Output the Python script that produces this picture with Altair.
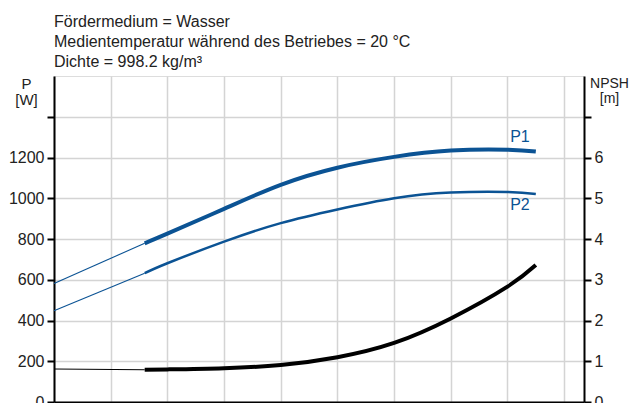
import altair as alt
import pandas as pd

# Flow values (x, unlabeled in the picture)
q_main = [1.6, 2, 3, 4, 5, 6, 7, 8, 8.5]
p1_main = [779, 826, 948, 1066, 1150, 1203, 1234, 1238, 1229]
p2_main = [632, 681, 787, 878, 945, 1000, 1028, 1031, 1021]
npsh_main = [0.79, 0.80, 0.83, 0.91, 1.10, 1.45, 2.05, 2.83, 3.36]

q_ext = [0, 1.6]
p1_ext = [582, 779]
p2_ext = [448, 632]
npsh_ext = [0.81, 0.79]

label_q = [8.22, 8.22]
label_p = [1302, 968]
label_text = ["P1", "P2"]

title_lines = [
    "Fördermedium = Wasser",
    "Medientemperatur während des Betriebes = 20 °C",
    "Dichte = 998.2 kg/m³",
]

x_ticks = list(range(10))
p_ticks = [0, 200, 400, 600, 800, 1000, 1200, 1400]
n_ticks = [0, 1, 2, 3, 4, 5, 6, 7]

BLUE = "#0b5394"
FONT = "Liberation Sans"

df_p1 = pd.DataFrame({"Q": q_main, "P": p1_main})
df_p1e = pd.DataFrame({"Q": q_ext, "P": p1_ext})
df_p2 = pd.DataFrame({"Q": q_main, "P": p2_main})
df_p2e = pd.DataFrame({"Q": q_ext, "P": p2_ext})
df_n = pd.DataFrame({"Q": q_main, "NPSH": npsh_main})
df_ne = pd.DataFrame({"Q": q_ext, "NPSH": npsh_ext})
df_lab = pd.DataFrame({"Q": label_q, "P": label_p, "t": label_text})

x_enc = alt.X(
    "Q:Q",
    scale=alt.Scale(domain=[0, 9.35], nice=False),
    axis=alt.Axis(
        values=x_ticks, grid=True, labels=False, ticks=False, title=None,
        domainColor="black", domainWidth=2,
        gridColor="#d4d4d4", gridWidth=1.5,
    ),
)

p_scale = alt.Scale(domain=[0, 1600], nice=False)
p_axis = alt.Axis(
    values=p_ticks, format="d",
    labelExpr="datum.value <= 1200 ? datum.label : ''",
    title=["P", "[W]"], titleAngle=0, titleAlign="center", titleBaseline="top",
    titleX=-28, titleY=0, titleFontSize=15, titleFontWeight="normal",
    titleLineHeight=16, titleColor="#222", titleFont=FONT,
    labelFontSize=16, labelColor="#222", labelFont=FONT, labelPadding=3,
    tickSize=7, tickWidth=2, tickColor="black",
    domainColor="black", domainWidth=2,
    grid=True, gridColor="#d4d4d4", gridWidth=1.5,
)
y_p = alt.Y("P:Q", scale=p_scale, axis=p_axis)


def pline(df, width, interp):
    return alt.Chart(df).mark_line(
        interpolate=interp, color=BLUE, strokeWidth=width, strokeCap="butt"
    ).encode(x=x_enc, y=y_p)


labels = alt.Chart(df_lab).mark_text(
    fontSize=16, font=FONT, color=BLUE, align="center", baseline="middle"
).encode(x=x_enc, y=y_p, text="t:N")

p_group = alt.layer(
    pline(df_p1e, 1.1, "linear"),
    pline(df_p2e, 1.1, "linear"),
    pline(df_p1, 4, "natural"),
    pline(df_p2, 2.5, "natural"),
    labels,
)

n_scale = alt.Scale(domain=[0, 8], nice=False)
n_axis = alt.Axis(
    orient="right", values=n_ticks, format="d",
    labelExpr="datum.value <= 6 ? datum.label : ''",
    title=["NPSH", "[m]"], titleAngle=0, titleAlign="center", titleBaseline="top",
    titleX=25, titleY=0, titleFontSize=14, titleFontWeight="normal",
    titleLineHeight=15, titleColor="#222", titleFont=FONT,
    labelFontSize=16, labelColor="#222", labelFont=FONT, labelPadding=3,
    tickSize=7, tickWidth=2, tickColor="black",
    domainColor="black", domainWidth=2, grid=False,
)
y_n = alt.Y("NPSH:Q", scale=n_scale, axis=n_axis)

n_group = alt.layer(
    alt.Chart(df_ne).mark_line(color="black", strokeWidth=1.1, strokeCap="butt").encode(x=x_enc, y=y_n),
    alt.Chart(df_n).mark_line(interpolate="natural", color="black", strokeWidth=4, strokeCap="butt").encode(x=x_enc, y=y_n),
)

chart = alt.layer(p_group, n_group).resolve_scale(
    y="independent"
).properties(
    width=530,
    height=326,
    padding={"left": 46, "top": 68, "right": 46, "bottom": 4},
    autosize=alt.AutoSizeParams(type="none"),
    title=alt.TitleParams(
        text=title_lines, anchor="start", frame="group", fontSize=16,
        fontWeight="normal", font=FONT, color="#222", lineHeight=20, offset=6,
    ),
).configure_view(
    stroke="black", strokeWidth=2
).configure(font=FONT)

chart.save("out.html", embed_options={"renderer": "svg", "actions": False})
